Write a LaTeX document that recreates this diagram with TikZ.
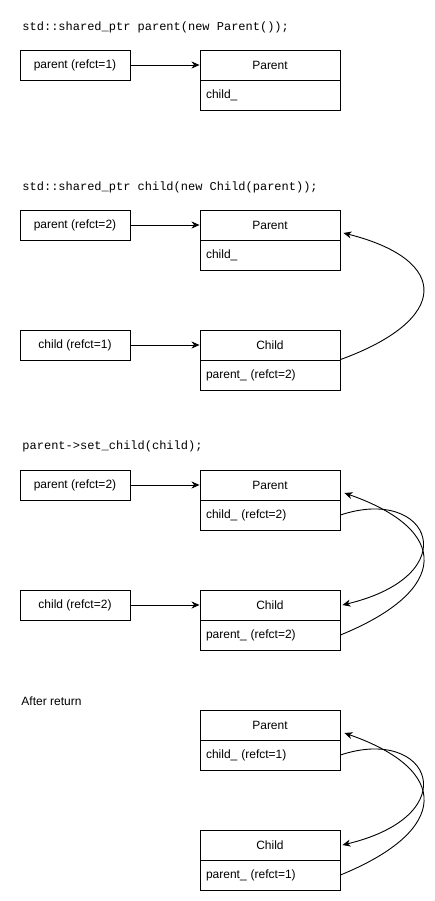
\documentclass[tikz,border=0pt]{standalone}
\usepackage{fontspec}
\setmainfont{Liberation Sans}
\setmonofont{Liberation Mono}
\usetikzlibrary{arrows.meta,calc}
\tikzset{every picture/.style={x=1pt,y=-1pt,line width=0.9pt,>={Stealth[length=8pt,width=7pt,inset=2.5pt]}}}
\tikzstyle{pointer} =
  [ rectangle
  , draw
  , minimum width=110pt
  , minimum height=30pt
  , inner sep=0pt
  , font=\fontsize{12}{14}\selectfont
  ]
\tikzstyle{object_head} =
  [ rectangle
  , draw
  , minimum width=140pt
  , minimum height=30pt
  , inner sep=0pt
  , font=\fontsize{12}{14}\selectfont
  ]
\tikzstyle{object_field} =
  [ rectangle
  , draw
  , text width=128pt
  , align=left
  , inner xsep=6pt
  , inner ysep=0pt
  , minimum height=30pt
  , font=\fontsize{12}{14}\selectfont
  ]
\tikzstyle{code_line} =
  [ anchor=west
  , inner sep=0pt
  , font=\ttfamily\fontsize{12}{14}\selectfont
  ]
\def\ParentObj{Parent}
\def\ChildObj{Child}

\begin{document}
\begin{tikzpicture}
    \useasboundingbox (0,0) rectangle (435,901);

    % step 1
    \node[code_line] (code_1) at (22,27) {std::shared\_ptr parent(new Parent());};
    \node[pointer]      (parent_ptr_1)   at (75,65)   {parent (refct=1)};
    \node[object_head]  (parent_head_1)  at (270,65)  {\ParentObj};
    \node[object_field] (parent_field_1) at (270,95)  {child\_};
    \draw[->] (parent_ptr_1) -- (parent_head_1);

    % step 2
    \node[code_line] (code_2) at (22,187) {std::shared\_ptr child(new Child(parent));};
    \node[pointer]      (parent_ptr_2)   at (75,225)  {parent (refct=2)};
    \node[object_head]  (parent_head_2)  at (270,225) {\ParentObj};
    \node[object_field] (parent_field_2) at (270,255) {child\_};
    \draw[->] (parent_ptr_2) -- (parent_head_2);
    \node[pointer]      (child_ptr_2)    at (75,345)  {child (refct=1)};
    \node[object_head]  (child_head_2)   at (270,345) {\ChildObj};
    \node[object_field] (child_field_2)  at (270,375) {parent\_ (refct=2)};
    \draw[->] (child_ptr_2) -- (child_head_2);
    \draw[->] (child_field_2.north east) .. controls +(110,-40) and +(107,27) .. ($(parent_head_2.east)+(3,8)$);

    % step 3
    \node[code_line] (code_3) at (22,446) {parent->set\_child(child);};
    \node[pointer]      (parent_ptr_3)   at (75,485)  {parent (refct=2)};
    \node[object_head]  (parent_head_3)  at (270,485) {\ParentObj};
    \node[object_field] (parent_field_3) at (270,515) {child\_ (refct=2)};
    \draw[->] (parent_ptr_3) -- (parent_head_3);
    \node[pointer]      (child_ptr_3)    at (75,605)  {child (refct=2)};
    \node[object_head]  (child_head_3)   at (270,605) {\ChildObj};
    \node[object_field] (child_field_3)  at (270,635) {parent\_ (refct=2)};
    \draw[->] (child_ptr_3) -- (child_head_3);
    \draw[->] (parent_field_3.east) .. controls +(90,-30) and +(125,-30) .. ($(child_head_3.east)+(2,0)$);
    \draw[->] (child_field_3.east) .. controls +(110,-45) and +(106,37) .. ($(parent_head_3.east)+(4,8)$);

    % after return
    \node[anchor=west,inner sep=0pt,font=\fontsize{12}{14}\selectfont] (after_text) at (21,701) {After return};
    \node[object_head]  (parent_head_4)  at (270,725) {\ParentObj};
    \node[object_field] (parent_field_4) at (270,755) {child\_ (refct=1)};
    \node[object_head]  (child_head_4)   at (270,845) {\ChildObj};
    \node[object_field] (child_field_4)  at (270,875) {parent\_ (refct=1)};
    \draw[->] (parent_field_4.east) .. controls +(90,-30) and +(125,-30) .. ($(child_head_4.east)+(2,0)$);
    \draw[->] (child_field_4.east) .. controls +(110,-45) and +(106,37) .. ($(parent_head_4.east)+(4,8)$);
\end{tikzpicture}
\end{document}
